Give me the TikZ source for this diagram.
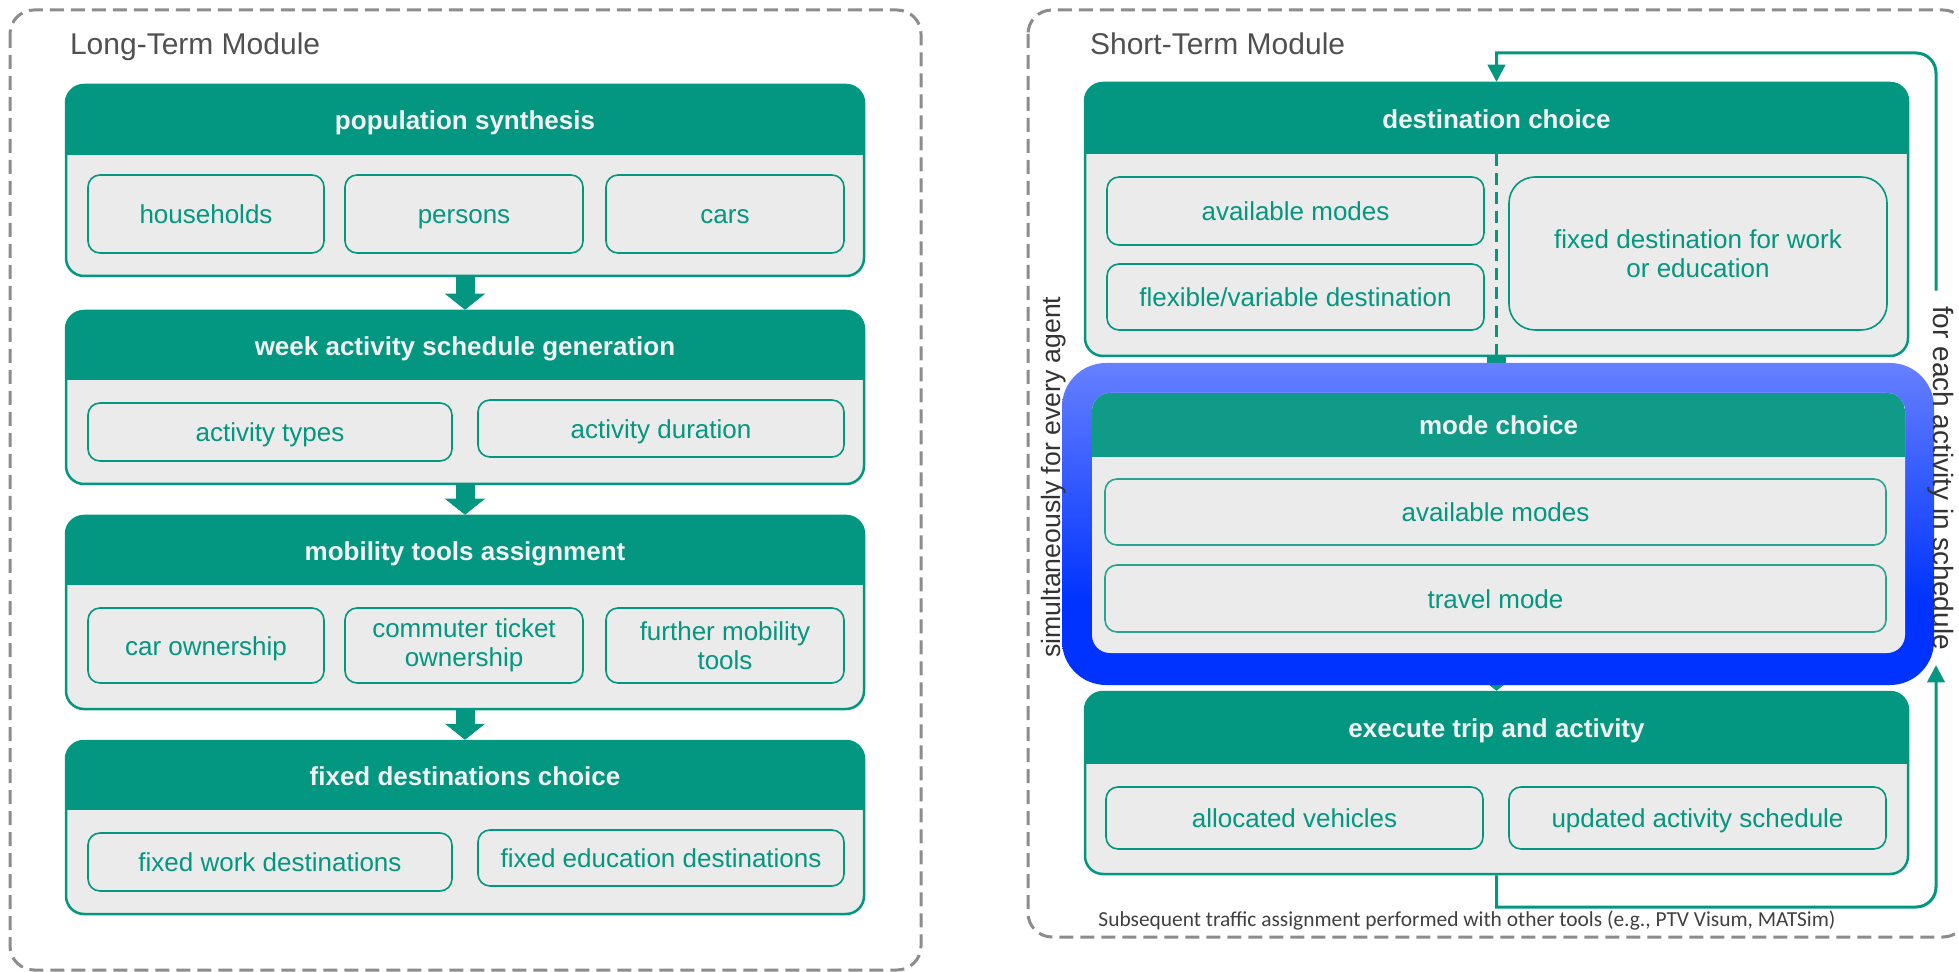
\documentclass[tikz,border=0pt]{standalone}
\usepackage{fontspec}
\setmainfont{Liberation Sans}
\newfontfamily\notefont{Carlito}
\usetikzlibrary{arrows.meta,fit,backgrounds}

\definecolor{tealc}{RGB}{3,150,128}
\definecolor{modehead}{RGB}{16,155,137}
\definecolor{subline}{RGB}{40,165,145}
\definecolor{bodygray}{RGB}{234,235,234}
\definecolor{framegray}{RGB}{140,140,140}
\definecolor{labelgray}{RGB}{80,80,80}
\definecolor{titlewhite}{RGB}{242,242,242}
\definecolor{glowtop}{RGB}{102,128,255}
\definecolor{glowbot}{RGB}{0,51,255}

\pgfdeclareverticalshading{glowshade}{100bp}{color(0bp)=(glowbot); color(38bp)=(glowbot); color(75bp)=(glowtop); color(100bp)=(glowtop)}

\def\px{0.5pt}

% one stage: name, x1, y1, x2, y head bottom, y bottom, title
\newcommand{\stage}[7]{%
  \node[stagebody, fit={(#2,#3) (#4,#6)}] (#1) {};
  \begin{scope}
    \clip[rounded corners=9pt] (#2,#3) rectangle (#4,#6);
    \fill[stagehead] (#2,#3) rectangle (#4,#5);
  \end{scope}
  \coordinate (#1-hb) at ({(#2+#4)/2},#5);
  \node[stagetitle] (#1-t) at ({(#2+#4)/2},{(#3+#5)/2}) {#7};
}

\begin{document}
\begin{tikzpicture}[x=\px, y=-\px]
  \tikzstyle{frame}=[draw=framegray, line width=1.5pt, dash pattern=on 7pt off 3.5pt, rounded corners=12pt]
  \tikzstyle{module label}=[anchor=base west, text=labelgray, font=\fontsize{15}{17}\selectfont]
  \tikzstyle{stagebody}=[draw=tealc, line width=1.25pt, fill=bodygray, rounded corners=9pt, inner sep=0pt]
  \tikzstyle{stagehead}=[fill=tealc]
  \tikzstyle{stagetitle}=[text=titlewhite, text height=9.6pt, text depth=0pt, font=\bfseries\fontsize{13}{15}\selectfont]
  \tikzstyle{sub}=[draw=tealc, line width=0.8pt, fill=bodygray, rounded corners=6pt, inner sep=0pt,
                   text=tealc, align=center, font=\fontsize{13}{14.5}\selectfont]
  \tikzstyle{oneline}=[text height=9.6pt, text depth=0pt]
  \tikzstyle{stagearrow}=[draw=tealc, line width=9.5pt, -{Triangle[width=20pt,length=8pt,line width=0.5pt]}]
  \tikzstyle{feedback}=[draw=tealc, line width=1.5pt, -{Triangle[width=9pt,length=8.5pt,line width=0.5pt]}]
  \tikzstyle{divider}=[draw=tealc, line width=1.4pt, dash pattern=on 6pt off 3.5pt]
  \tikzstyle{glow}=[shade, shading=glowshade, rounded corners=22pt, inner sep=0pt]
  \tikzstyle{side note}=[text=black!80, font=\fontsize{13.3}{16}\selectfont]

  \useasboundingbox (0,0) rectangle (1959,972);

  % Draw the two module frames
  \draw[frame] (10,10) rectangle (921,970);
  \draw[frame] (1028,10) rectangle (1967,937);
  \node[module label] (ltm) at (63,55) {Long-Term Module};
  \node[module label] (stm) at (1083,55) {Short-Term Module};

  % Long-term stages
  \stage{popsyn}{66}{85}{864}{155}{276}{population synthesis}
  \stage{weekact}{66}{311}{864}{380}{484}{week activity schedule generation}
  \stage{mobtools}{66}{516}{864}{585}{709}{mobility tools assignment}
  \stage{fixdest}{66}{741}{864}{810}{914}{fixed destinations choice}

  % Draw the items of each stage (centre x, centre y, width, height)
  \foreach \name/\cx/\cy/\w/\h/\txt in {
      hh/206/214/236/78/households, pers/464/214/238/78/persons, cars/725/214/238/78/cars,
      acttypes/270/432/364/58/activity types, actdur/661/428.5/366/57/activity duration,
      carown/206/645.5/236/75/car ownership,
      fixwork/270/862/364/58/fixed work destinations, fixedu/661/858/366/56/fixed education destinations}
    \node[sub, oneline, minimum width=\w*\px, minimum height=\h*\px] (\name) at (\cx,\cy) {\txt};
  \node[sub, minimum width=238*\px, minimum height=75*\px] (commticket) at (464,645.5) {commuter ticket\\ownership};
  \node[sub, minimum width=238*\px, minimum height=75*\px] (furthermob) at (725,645.5) {further mobility\\tools};

  % Connect the long-term stages
  \foreach \src/\dst in {popsyn/weekact, weekact/mobtools, mobtools/fixdest}
    \draw[stagearrow] (\src.south) -- (\dst.north);

  % Short-term stages
  \stage{destch}{1085}{83}{1908}{154}{356}{destination choice}
  \stage{exectrip}{1085}{692}{1908}{764}{874}{execute trip and activity}
  \draw[divider] (destch-hb) -- (destch.south);

  \foreach \name/\cx/\cy/\w/\h/\txt in {
      avmod/1295.5/211/377/68/available modes, flexdest/1295.5/297/377/66/{flexible/variable destination},
      allocveh/1294.5/818/377/62/allocated vehicles, updsched/1697.5/818/377/62/updated activity schedule}
    \node[sub, oneline, minimum width=\w*\px, minimum height=\h*\px] (\name) at (\cx,\cy) {\txt};
  \node[sub, rounded corners=13pt, minimum width=378*\px, minimum height=153*\px] (fixdestwe) at (1698,253.5)
    {fixed destination for work\\or education};

  % Mode choice, highlighted
  \node[glow, fit={(1062,363) (1934,685)}] (glowbox) {};
  \begin{scope}[stagebody/.style={fill=bodygray, rounded corners=9pt, inner sep=0pt}, stagehead/.style={fill=modehead}]
    \stage{modech}{1092}{393}{1905}{457}{653}{mode choice}
  \end{scope}
  \foreach \name/\cy/\h/\txt in {avmodes/512/66/available modes, travmode/598.5/67/travel mode}
    \node[sub, oneline, draw=subline, minimum width=781*\px, minimum height=\h*\px] (\name) at (1495.5,\cy) {\txt};

  % Arrows through the highlight (mostly hidden)
  \begin{scope}[on background layer]
    \draw[stagearrow] (destch.south) -- (destch.south |- modech.north);
    \draw[stagearrow] (exectrip.north |- modech.south) -- (exectrip.north);
  \end{scope}

  % Side notes
  \node[side note, rotate=90] (simul) at (1054,477) {simultaneously for every agent};
  \node[side note, rotate=-90, inner sep=7.5pt, font=\fontsize{14}{16}\selectfont] (foract) at (1941,478) {for each activity in schedule};
  \node[text=black!75, font=\notefont\fontsize{10.7}{12}\selectfont] (note) at (1467,921)
    {Subsequent traffic assignment performed with other tools (e.g., PTV Visum, MATSim)};

  % Loop back for the next activity
  \coordinate (loopbr) at (1936,907);
  \coordinate (looptr) at (1936,53);
  \draw[feedback] (exectrip.south) -- (exectrip.south |- loopbr) -- ([xshift=-10pt]loopbr)
    arc[start angle=270, end angle=360, radius=10pt] -- (loopbr |- foract.east);
  \draw[feedback] (loopbr |- foract.west) -- ([yshift=-10pt]looptr)
    arc[start angle=0, end angle=90, radius=10pt] -- (destch.north |- looptr) -- (destch.north);
\end{tikzpicture}
\end{document}
